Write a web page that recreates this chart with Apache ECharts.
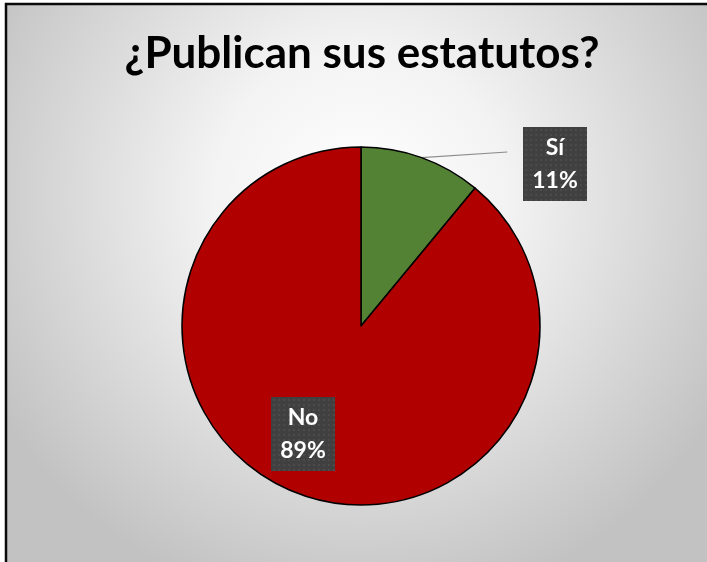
<!DOCTYPE html>
<html>
<head>
<meta charset="utf-8">
<script src="https://cdn.jsdelivr.net/npm/echarts@6/dist/echarts.min.js"></script>
<style>
  html, body { margin: 0; padding: 0; background: #fff; }
  #chart { width: 707px; height: 562px; }
</style>
</head>
<body>
<div id="chart"></div>
<script>
// Survey answers and their shares (percent)
const categories = ['Sí', 'No'];
const values = [11, 89];
const colors = ['#548235', '#b00000'];
const chartTitle = '¿Publican sus estatutos?';

// Pie geometry (pixels)
const CX = 361, CY = 326, R = 179;

// Label boxes: dark tile with a faint dot grid
function dotTile(w, h) {
  const c = document.createElement('canvas');
  c.width = w; c.height = h;
  const g = c.getContext('2d');
  g.fillStyle = '#404040';
  g.fillRect(0, 0, w, h);
  g.fillStyle = '#4c4c4c';
  for (let y = 2; y < h; y += 5) {
    for (let x = 2; x < w; x += 5) {
      g.fillRect(x, y, 2, 2);
    }
  }
  return c;
}
const tile = dotTile(64, 74);

const total = values.reduce((a, b) => a + b, 0);
// mid angle of each slice, degrees clockwise from 12 o'clock
const midAngles = [];
let acc = 0;
values.forEach(v => {
  const span = v / total * 360;
  midAngles.push(acc + span / 2);
  acc += span;
});

// where each label box is centred
const labelCentres = [[555, 164], [303, 434]];

const chart = echarts.init(document.getElementById('chart'), null, { renderer: 'canvas' });

const option = {
  animation: false,
  graphic: [{
    type: 'rect',
    z: -10,
    silent: true,
    shape: { x: 6, y: 4, width: 720, height: 580 },
    style: {
      fill: {
        type: 'radial', x: 0.49, y: 0.33, r: 0.72,
        colorStops: [
          { offset: 0, color: '#ffffff' },
          { offset: 0.35, color: '#f3f3f3' },
          { offset: 1, color: '#c2c2c2' }
        ]
      },
      stroke: '#0a0a0a',
      lineWidth: 2.5
    }
  }],
  title: {
    text: chartTitle,
    left: 357,
    textAlign: 'center',
    top: 27,
    textStyle: {
      fontFamily: 'Lato',
      fontWeight: 'bold',
      fontSize: 44,
      color: '#000000'
    }
  },
  series: [{
    type: 'pie',
    center: [CX, CY],
    radius: R,
    startAngle: 90,
    clockwise: true,
    avoidLabelOverlap: false,
    itemStyle: { borderColor: '#000000', borderWidth: 1.5 },
    label: {
      show: true,
      position: 'inside',
      formatter: p => p.name + '\n' + p.value + '%',
      fontFamily: 'Lato',
      fontWeight: 'bold',
      fontSize: 23,
      lineHeight: 33,
      color: '#ffffff',
      overflow: 'none',
      align: 'center',
      backgroundColor: { image: tile },
      padding: [4, 9, 4, 9],
      shadowColor: 'rgba(0,0,0,0.6)',
      shadowBlur: 6,
      shadowOffsetX: 3,
      shadowOffsetY: 3
    },
    labelLine: { show: true, lineStyle: { color: '#8c8c8c', width: 1.25 } },
    data: categories.map((name, i) => ({
      name: name,
      value: values[i],
      itemStyle: { color: colors[i] },
      label: i === 0 ? { position: 'outside', alignTo: 'none' } : {},
      labelLine: { show: i === 0 }
    })),
    labelLayout: function (params) {
      const i = params.dataIndex;
      const c = labelCentres[i];
      const out = { x: c[0], y: c[1], align: 'center', verticalAlign: 'middle' };
      if (i === 0) {
        const a = midAngles[0] * Math.PI / 180;
        const ax = CX + R * Math.sin(a);
        const ay = CY - R * Math.cos(a);
        const ex = c[0] - params.labelRect.width / 2;
        out.labelLinePoints = [[ax, ay], [ex, 152], [ex, 152]];
      }
      return out;
    }
  }]
};

chart.setOption(option);
</script>
</body>
</html>
